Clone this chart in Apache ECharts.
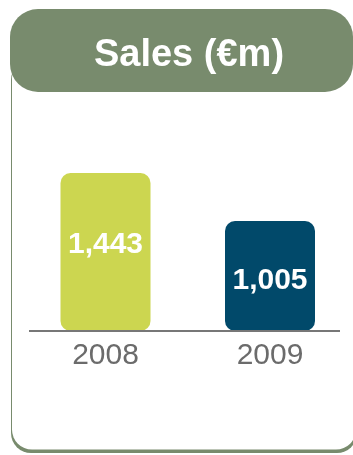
<!DOCTYPE html>
<html>
<head>
<meta charset="utf-8">
<script src="https://cdn.jsdelivr.net/npm/echarts@6/dist/echarts.min.js"></script>
<style>
  html, body { margin: 0; padding: 0; background: #ffffff; }
  #chart { width: 353px; height: 455px; }
</style>
</head>
<body>
<div id="chart"></div>
<script>
// Annual sales, in millions of euros
const years = ['2008', '2009'];
const sales = [1443, 1005];
const barColors = ['#CCD650', '#01496A'];
const titleText = 'Sales (€m)';

const FONT = '"Liberation Sans", Arial, sans-serif';
const FRAME_GREEN = '#788B6D';
// small vertical nudges of the value labels inside each bar
const labelNudge = [-7, 5];

const chart = echarts.init(document.getElementById('chart'), null, { renderer: 'canvas' });

const barData = sales.map((v, i) => ({
  value: v,
  itemStyle: { color: barColors[i] },
  label: { offset: [0, labelNudge[i]] }
}));

chart.setOption({
  animation: false,
  backgroundColor: '#ffffff',
  title: {
    text: titleText,
    left: 184,
    top: 51,
    textAlign: 'center',
    textVerticalAlign: 'middle',
    textStyle: { color: '#ffffff', fontFamily: FONT, fontWeight: 'bold', fontSize: 38 },
    z: 10
  },
  grid: { left: 23.25, right: 0.75, top: 112, bottom: 124, containLabel: false },
  xAxis: {
    type: 'category',
    data: years,
    axisLine: { show: false },
    axisTick: { show: false },
    axisLabel: { color: '#6B6B6B', fontFamily: FONT, fontSize: 30, margin: 10 },
    z: 5
  },
  yAxis: {
    type: 'value',
    min: 0,
    max: 2000,
    show: false,
    splitLine: { show: false }
  },
  series: [{
    type: 'bar',
    data: barData,
    barWidth: 90,
    itemStyle: { borderRadius: 10 },
    label: {
      show: true,
      position: 'inside',
      color: '#ffffff',
      fontFamily: FONT,
      fontWeight: 'bold',
      fontSize: 30,
      formatter: p => p.value.toLocaleString('en-US')
    },
    z: 2
  }]
});

// Frame, header pill and baseline drawn as decorations around the plot
const baseY = chart.convertToPixel({ yAxisIndex: 0 }, 0);
chart.setOption({
  graphic: [
    {
      type: 'rect', z: -10, silent: true,
      shape: { x: 11, y: 60, width: 346, height: 393, r: 20 },
      style: { fill: FRAME_GREEN }
    },
    {
      type: 'rect', z: -9, silent: true,
      shape: { x: 12, y: 58, width: 344, height: 391.5, r: 20 },
      style: { fill: '#ffffff' }
    },
    {
      type: 'rect', z: -8, silent: true,
      shape: { x: 10, y: 9, width: 343, height: 83, r: 28 },
      style: { fill: FRAME_GREEN }
    },
    {
      type: 'line', z: 5, silent: true,
      shape: { x1: 29, y1: baseY, x2: 340, y2: baseY },
      style: { stroke: '#777777', lineWidth: 2 }
    }
  ]
});
</script>
</body>
</html>
